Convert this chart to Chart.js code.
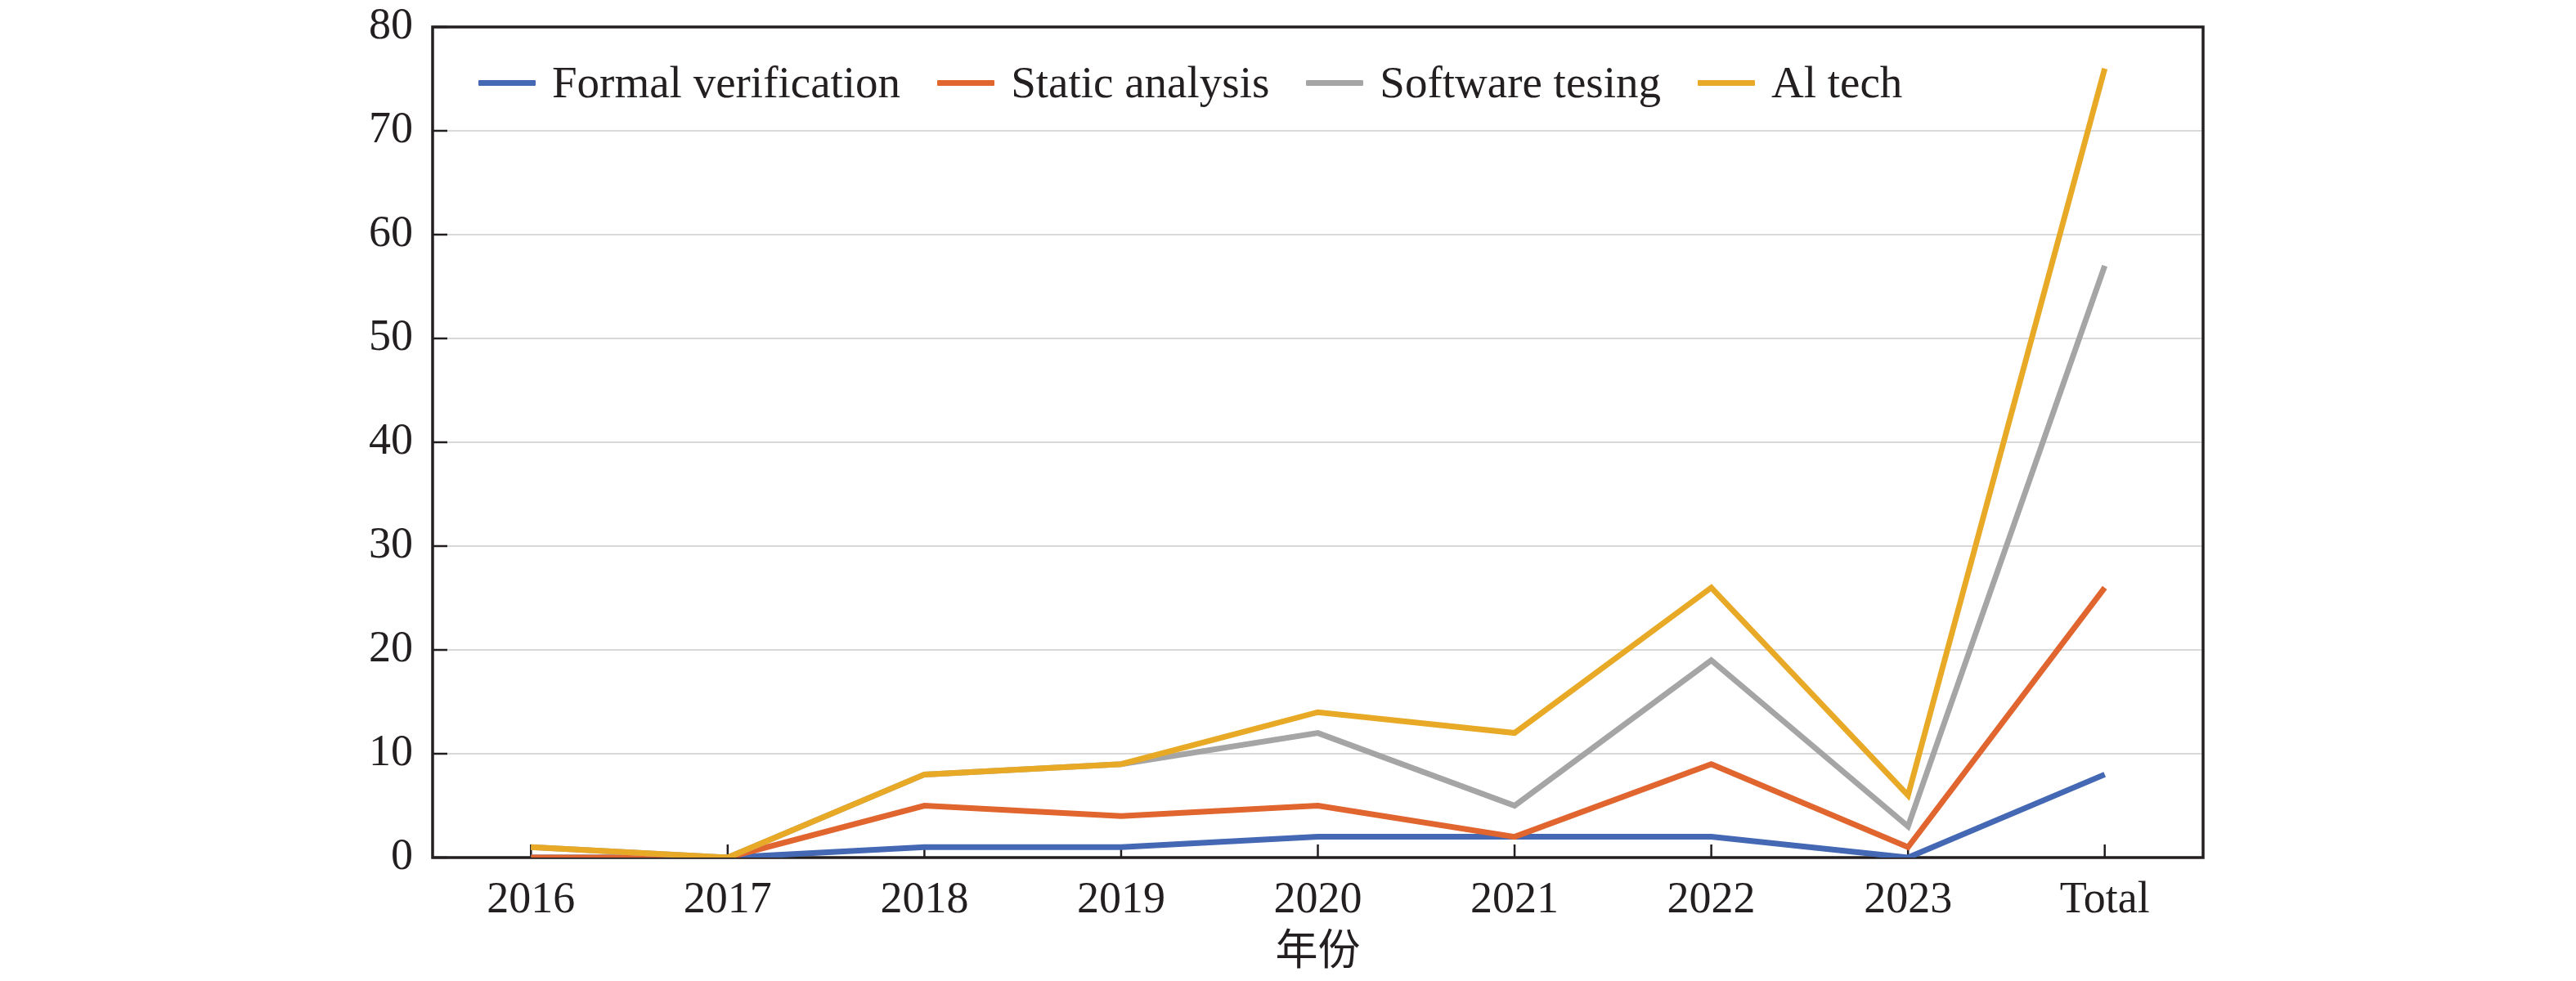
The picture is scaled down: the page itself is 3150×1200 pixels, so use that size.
<!DOCTYPE html>
<html>
<head>
<meta charset="utf-8">
<script src="https://cdn.jsdelivr.net/npm/chart.js@4"></script>
<style>
  html, body { margin: 0; padding: 0; background: #ffffff; }
  #wrap { position: relative; width: 3150px; height: 1200px; }
  #c { position: absolute; left: 0; top: 0; width: 3150px; height: 1200px; }
  #legend { position: absolute; left: 585px; top: 68px; display: flex; align-items: center;
            font-family: 'Liberation Serif', 'Times New Roman', serif; font-size: 55px; color: #231f20;
            line-height: 66px; white-space: nowrap; }
  #legend .item { display: flex; align-items: center; margin-right: 45px; }
  #legend .swatch { width: 70px; height: 7px; margin-right: 20px; border-radius: 1px; }
</style>
</head>
<body>
<div id="wrap">
  <canvas id="c" width="3150" height="1200"></canvas>
  <div id="legend"></div>
</div>
<script>
// ---- data ----
const categories = ['2016', '2017', '2018', '2019', '2020', '2021', '2022', '2023', 'Total'];
const seriesNames = ['Formal verification', 'Static analysis', 'Software tesing', 'Al tech'];
const formalVerification = [0, 0, 1, 1, 2, 2, 2, 0, 8];
const staticAnalysis = [0, 0, 5, 4, 5, 2, 9, 1, 26];
const softwareTesting = [1, 0, 8, 9, 12, 5, 19, 3, 57];
const aiTech = [1, 0, 8, 9, 14, 12, 26, 6, 76];
const yMin = 0;
const yMax = 80;
const yStep = 10;
const xTitle = '年份';

// ---- styles ----
const colors = ['#4468B4', '#E0652F', '#A5A5A5', '#E8AA26'];
const ink = '#231f20';
const serif = "'Liberation Serif', 'Times New Roman', 'Noto Sans CJK SC', serif";

const seriesValues = [formalVerification, staticAnalysis, softwareTesting, aiTech];
const datasets = seriesNames.map((name, i) => ({
  label: name,
  data: seriesValues[i],
  borderColor: colors[i],
  backgroundColor: colors[i],
  borderWidth: 7,
  pointRadius: 0,
  pointHoverRadius: 0,
  tension: 0,
  fill: false,
  order: seriesNames.length - i
}));

const framePlugin = {
  id: 'frame',
  beforeDatasetsDraw(chart) {
    const { ctx, chartArea: a } = chart;
    const xs = chart.scales.x, ys = chart.scales.y;
    ctx.save();
    ctx.strokeStyle = ink;
    ctx.lineWidth = 2.5;
    // inward y tick marks
    ys.ticks.forEach((t, i) => {
      const p = ys.getPixelForTick(i);
      ctx.beginPath(); ctx.moveTo(a.left, p); ctx.lineTo(a.left + 18, p); ctx.stroke();
    });
    // inward x tick marks
    xs.ticks.forEach((t, i) => {
      const p = xs.getPixelForTick(i);
      ctx.beginPath(); ctx.moveTo(p, a.bottom); ctx.lineTo(p, a.bottom - 16); ctx.stroke();
    });
    ctx.lineWidth = 3.5;
    ctx.strokeRect(a.left, a.top, a.right - a.left, a.bottom - a.top);
    ctx.restore();
  }
};

const chart = new Chart(document.getElementById('c'), {
  type: 'line',
  data: { labels: categories, datasets: datasets },
  options: {
    responsive: false,
    animation: false,
    devicePixelRatio: 1,
    layout: { padding: { left: 0, top: 33, right: 456, bottom: 0 } },
    plugins: {
      legend: { display: false },
      tooltip: { enabled: false }
    },
    scales: {
      x: {
        offset: true,
        grid: { display: false, drawTicks: false },
        border: { display: false },
        ticks: { color: ink, font: { family: serif, size: 54 }, padding: 20, maxRotation: 0, autoSkip: false },
        title: { display: true, text: xTitle, color: ink, font: { family: serif, size: 52 }, padding: { top: 0, bottom: 2 } },
        afterFit(scale) { scale.height = 151; }
      },
      y: {
        min: yMin,
        max: yMax,
        grid: { color: '#d9d9d9', lineWidth: 2, drawTicks: false },
        border: { display: false },
        ticks: { stepSize: yStep, color: ink, font: { family: serif, size: 54 }, padding: 24 },
        afterFit(scale) { scale.width = 529; scale.paddingTop = 0; scale.paddingBottom = 0; }
      }
    }
  },
  plugins: [framePlugin]
});

// HTML legend built from the chart's datasets
const legendEl = document.getElementById('legend');
chart.data.datasets.forEach(ds => {
  const item = document.createElement('div');
  item.className = 'item';
  const sw = document.createElement('span');
  sw.className = 'swatch';
  sw.style.background = ds.borderColor;
  const tx = document.createElement('span');
  tx.textContent = ds.label;
  item.appendChild(sw);
  item.appendChild(tx);
  legendEl.appendChild(item);
});
</script>
</body>
</html>
